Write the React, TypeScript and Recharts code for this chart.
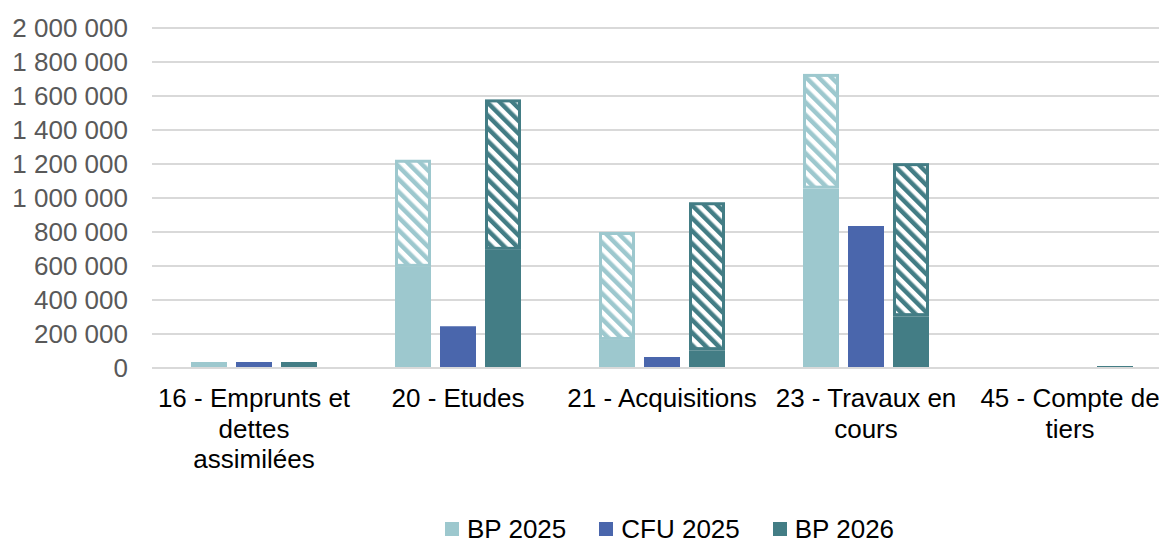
import { BarChart, Bar, XAxis, YAxis, CartesianGrid } from 'recharts'

const lightC = '#9DC8CE', blueC = '#4A66AC', darkC = '#437D85'
const gridC = '#D9D9D9', txt = '#000000', axisTxt = '#595959'
const font = '"Liberation Sans", Arial, sans-serif'

// catégories (libellés découpés comme dans Excel)
const categories = ['16 - Emprunts et dettes assimilées', '20 - Etudes', '21 - Acquisitions', '23 - Travaux en cours', '45 - Compte de tiers']
const labelLines = [
  ['16 - Emprunts et', 'dettes', 'assimilées'],
  ['20 - Etudes'],
  ['21 - Acquisitions'],
  ['23 - Travaux en', 'cours'],
  ['45 - Compte de', 'tiers'],
]

// valeurs (partie pleine + partie hachurée)
const bp2025Solid = [35000, 595000, 165000, 1055000, 6000]
const bp2025Hatch = [0, 630000, 635000, 675000, 0]
const cfu2025 = [35000, 245000, 65000, 835000, 0]
const bp2026Solid = [35000, 695000, 105000, 305000, 12000]
const bp2026Hatch = [0, 885000, 870000, 900000, 0]

const yTicks = [0, 200000, 400000, 600000, 800000, 1000000, 1200000, 1400000, 1600000, 1800000, 2000000]

const legendItems = [
  { label: 'BP 2025', color: lightC },
  { label: 'CFU 2025', color: blueC },
  { label: 'BP 2026', color: darkC },
]

const data = categories.map((c, i) => ({
  name: c,
  bp25s: bp2025Solid[i],
  bp25h: bp2025Hatch[i],
  cfu: cfu2025[i],
  bp26s: bp2026Solid[i],
  bp26h: bp2026Hatch[i],
}))

const fmt = (v: number) => String(v).replace(/\B(?=(\d{3})+(?!\d))/g, ' ')

function XTick(props: any) {
  const { x, y, index } = props
  const lines = labelLines[index] ?? []
  return (
    <text x={x} y={y} textAnchor="middle" fill={txt} fontSize={26} fontFamily={font}>
      {lines.map((l, i) => (
        <tspan key={i} x={x} y={y + 39 + i * 30.5}>{l}</tspan>
      ))}
    </text>
  )
}

// barre hachurée avec bordure intérieure
const hatchShape = (patternId: string, color: string) => (props: any) => {
  const { x, y, width, height } = props
  if (!height || height <= 0) return <g />
  return (
    <rect x={x + 1.5} y={y + 1.5} width={width - 3} height={Math.max(height - 3, 0)}
      fill={`url(#${patternId})`} stroke={color} strokeWidth={3} />
  )
}

export default function App() {
  return (
    <div style={{ position: 'fixed', left: 0, top: 0, width: 1159, height: 544, overflow: 'hidden', background: '#fff', fontFamily: font }}>
      <BarChart width={1180} height={544} data={data} barSize={36} barGap={9}
        margin={{ top: 28, right: 8, left: 0, bottom: 46 }}>
        <defs>
          <pattern id="hatchLight" patternUnits="userSpaceOnUse" width={9} height={9} patternTransform="rotate(-45)">
            <rect x={0} y={0} width={9} height={9} fill="#fff" />
            <rect x={0} y={0} width={4.5} height={9} fill={lightC} />
          </pattern>
          <pattern id="hatchDark" patternUnits="userSpaceOnUse" width={9} height={9} patternTransform="rotate(-45)">
            <rect x={0} y={0} width={9} height={9} fill="#fff" />
            <rect x={0} y={0} width={4.5} height={9} fill={darkC} />
          </pattern>
        </defs>
        <CartesianGrid vertical={false} stroke={gridC} strokeWidth={2} />
        <XAxis dataKey="name" height={130} tickLine={false} tickSize={0} tickMargin={0}
          axisLine={{ stroke: gridC, strokeWidth: 2 }} tick={<XTick />} interval={0} />
        <YAxis width={152} domain={[0, 2000000]} ticks={yTicks} tickFormatter={fmt} interval={0}
          axisLine={false} tickLine={false} tickSize={0} tickMargin={24}
          tick={{ fontSize: 26, fill: axisTxt, fontFamily: font }} />
        <Bar dataKey="bp25s" stackId="a" fill={lightC} isAnimationActive={false} />
        <Bar dataKey="bp25h" stackId="a" fill="url(#hatchLight)" shape={hatchShape('hatchLight', lightC)} isAnimationActive={false} />
        <Bar dataKey="cfu" stackId="b" fill={blueC} isAnimationActive={false} />
        <Bar dataKey="bp26s" stackId="c" fill={darkC} isAnimationActive={false} />
        <Bar dataKey="bp26h" stackId="c" fill="url(#hatchDark)" shape={hatchShape('hatchDark', darkC)} isAnimationActive={false} />
      </BarChart>
      {/* légende */}
      <div style={{ position: 'absolute', left: 445, top: 514, display: 'flex', alignItems: 'center', gap: 33 }}>
        {legendItems.map(l => (
          <div key={l.label} style={{ display: 'flex', alignItems: 'center', gap: 8, fontSize: 26, color: txt, lineHeight: '30px', height: 30 }}>
            <div style={{ width: 14, height: 14, background: l.color }} />{l.label}
          </div>
        ))}
      </div>
    </div>
  )
}
